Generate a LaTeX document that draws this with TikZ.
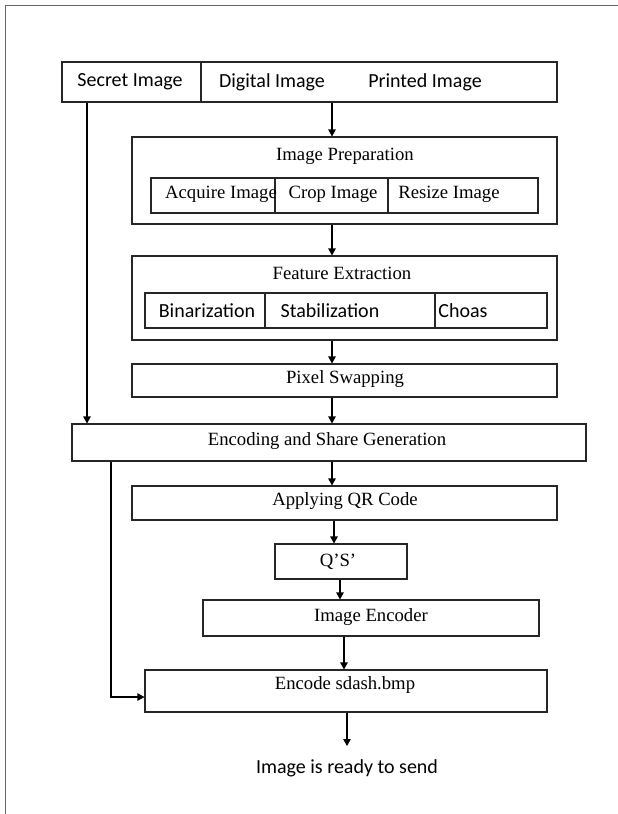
\documentclass[tikz,border=0pt]{standalone}
\usepackage{fontspec}
\setmainfont{Liberation Serif}
\newfontfamily\calfont{Carlito}
\usetikzlibrary{arrows.meta}
\begin{document}
\begin{tikzpicture}[x=1pt,y=-1pt,
  box/.style={draw=black!85, line width=1.1pt, inner sep=0pt, rectangle},
  ser/.style={font=\fontsize{18.7}{20}\selectfont, inner sep=0pt, anchor=center},
  san/.style={font=\calfont\fontsize{20}{22}\selectfont, inner sep=0pt, anchor=center},
  arr/.style={line width=1.1pt, draw=black, -{Triangle[length=7pt,width=7.5pt]}},
  ln/.style={line width=1.1pt, draw=black!85},
  frame/.style={line width=1pt, draw=black!60}]
\useasboundingbox (0,0) rectangle (618,814);
% frame
\coordinate (fTL) at (5,5);
\coordinate (fTR) at (618,5);
\coordinate (fBL) at (5,814);
\draw[frame] (fTR) -- (fTL) -- (fBL);
% boxes
\node[box, minimum width=495pt, minimum height=40pt] (top) at (309.5,82) {};
\node[box, minimum width=425pt, minimum height=87pt] (prep) at (344.5,180.5) {};
\node[box, minimum width=387pt, minimum height=35pt] (prepin) at (344.5,195.5) {};
\node[box, minimum width=425pt, minimum height=84pt] (feat) at (344.5,298) {};
\node[box, minimum width=402pt, minimum height=35pt] (featin) at (346,310.5) {};
\node[box, minimum width=425pt, minimum height=33pt] (pix) at (344.5,380.5) {};
\node[box, minimum width=514pt, minimum height=37pt] (enc) at (329,442.5) {};
\node[box, minimum width=425pt, minimum height=34pt] (qr) at (344.5,503) {};
\node[box, minimum width=132pt, minimum height=35pt] (qs) at (341,561.5) {};
\node[box, minimum width=336pt, minimum height=36pt] (ie) at (371,618) {};
\node[box, minimum width=402pt, minimum height=42pt] (es) at (346,691) {};
% dividers
\draw[ln] (top.north -| 201,0) -- (top.south -| 201,0);
\draw[ln] (prepin.north -| 275,0) -- (prepin.south -| 275,0);
\draw[ln] (prepin.north -| 388,0) -- (prepin.south -| 388,0);
\draw[ln] (featin.north -| 265,0) -- (featin.south -| 265,0);
\draw[ln] (featin.north -| 435,0) -- (featin.south -| 435,0);
% texts
\node[san] (t1) at (130,82) {Secret Image};
\node[san] (t2) at (272,82) {Digital Image};
\node[san] (t3) at (425,82) {Printed Image};
\node[ser] (t4) at (345,156) {Image Preparation};
\node[ser] (t5) at (221,194) {Acquire Image};
\node[ser] (t6) at (333,194) {Crop Image};
\node[ser] (t7) at (449,194) {Resize Image};
\node[ser] (t8) at (342,273) {Feature Extraction};
\node[san] (t9) at (207,311) {Binarization};
\node[san] (t10) at (330,311) {Stabilization};
\node[san] (t11) at (463,311) {Choas};
\node[ser] (t12) at (345,379) {Pixel Swapping};
\node[ser] (t13) at (327,441) {Encoding and Share Generation};
\node[ser] (t14) at (345,501) {Applying QR Code};
\node[ser] (t15) at (338,562) {Q’S’};
\node[ser] (t16) at (371,617) {Image Encoder};
\node[ser] (t17) at (345,685) {Encode sdash.bmp};
\node[san] (t18) at (347,768) {Image is ready to send};
\coordinate (endp) at (347,746);
% connectors
\draw[arr] (top.south -| 332,0) -- (prep.north -| 332,0);
\draw[arr] (prep.south -| 332,0) -- (feat.north -| 332,0);
\draw[arr] (feat.south -| 332,0) -- (pix.north -| 332,0);
\draw[arr] (pix.south -| 332,0) -- (enc.north -| 332,0);
\draw[arr] (top.south -| 87,0) -- (enc.north -| 87,0);
\draw[arr] (enc.south -| 332,0) -- (qr.north -| 332,0);
\draw[arr] (qr.south -| 334,0) -- (qs.north -| 334,0);
\draw[arr] (qs.south -| 340,0) -- (ie.north -| 340,0);
\draw[arr] (ie.south -| 344,0) -- (es.north -| 344,0);
\draw[arr] (enc.south -| 111,0) -- (111,697) -- (es.west |- 0,697);
\draw[arr] (es.south -| endp) -- (endp);
\end{tikzpicture}
\end{document}
